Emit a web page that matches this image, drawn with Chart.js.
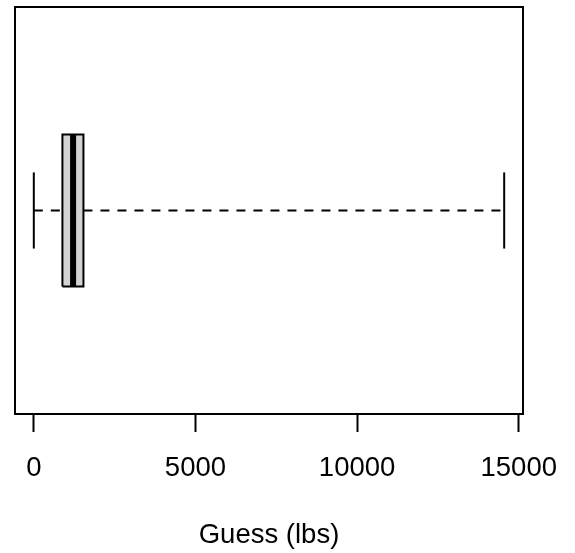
<!DOCTYPE html>
<html>
<head>
<meta charset="utf-8">
<script src="https://cdn.jsdelivr.net/npm/chart.js@4/dist/chart.umd.min.js"></script>
<style>
    html, body { margin: 0; padding: 0; background: #ffffff; }
    #wrap { width: 575px; height: 553px; }
</style>
</head>
<body>
<div id="wrap"><canvas id="chart" width="575" height="553"></canvas></div>
<script>
// Five-number summary of the guesses
var axisTitle = 'Guess (lbs)';
var lowerWhisker = [0];
var lowerQuartile = [885];
var medians = [1215];
var upperQuartile = [1535];
var upperWhisker = [14550];
var xTicks = [0, 5000, 10000, 15000];

(function () {
    'use strict';

    var BOX_HALF = 0.202;   // half height of the box, in y units
    var CAP_HALF = 0.101;   // half height of whisker caps
    var FONT = { family: '"Liberation Sans", Arial, Helvetica, sans-serif', size: 27.5 };

    var lo = lowerWhisker[0], q1 = lowerQuartile[0], med = medians[0],
        q3 = upperQuartile[0], hi = upperWhisker[0];
    var span = hi - lo;

    function line(points, extra) {
        var ds = {
            data: points,
            showLine: true,
            pointRadius: 0,
            borderColor: '#000000',
            borderWidth: 2,
            fill: false
        };
        for (var k in extra) {
            ds[k] = extra[k];
        }
        return ds;
    }

    var datasets = [
        line([{ x: med, y: 1 - BOX_HALF }, { x: med, y: 1 + BOX_HALF }], { borderWidth: 6, order: 0 }),
        line([
            { x: q1, y: 1 - BOX_HALF }, { x: q3, y: 1 - BOX_HALF },
            { x: q3, y: 1 + BOX_HALF }, { x: q1, y: 1 + BOX_HALF },
            { x: q1, y: 1 - BOX_HALF }
        ], { fill: 'shape', backgroundColor: '#d3d3d3', order: 1 }),
        line([{ x: lo, y: 1 }, { x: q1, y: 1 }], { borderDash: [9, 8], order: 2 }),
        line([{ x: q3, y: 1 }, { x: hi, y: 1 }], { borderDash: [9, 8], order: 2 }),
        line([{ x: lo, y: 1 - CAP_HALF }, { x: lo, y: 1 + CAP_HALF }], { order: 2 }),
        line([{ x: hi, y: 1 - CAP_HALF }, { x: hi, y: 1 + CAP_HALF }], { order: 2 })
    ];

    var framePlugin = {
        id: 'frame',
        afterDraw: function (chart) {
            var a = chart.chartArea;
            var ctx = chart.ctx;
            ctx.save();
            ctx.strokeStyle = '#000000';
            ctx.lineWidth = 2;
            ctx.strokeRect(a.left, a.top, a.right - a.left, a.bottom - a.top);
            ctx.restore();
        }
    };

    new Chart(document.getElementById('chart'), {
        type: 'scatter',
        data: { datasets: datasets },
        plugins: [framePlugin],
        options: {
            responsive: false,
            animation: false,
            layout: { padding: { left: 15, right: 52, top: 7, bottom: 0 } },
            plugins: {
                legend: { display: false },
                tooltip: { enabled: false }
            },
            scales: {
                x: {
                    type: 'linear',
                    min: lo - 0.04 * span,
                    max: hi + 0.04 * span,
                    afterBuildTicks: function (scale) {
                        scale.ticks = xTicks.map(function (v) { return { value: v }; });
                    },
                    afterFit: function (scale) {
                        // labels may overhang the plot frame, like in R
                        scale.paddingLeft = 0;
                        scale.paddingRight = 0;
                    },
                    ticks: {
                        color: '#000000',
                        font: FONT,
                        padding: 20,
                        maxRotation: 0,
                        autoSkip: false,
                        callback: function (v) { return String(v); }
                    },
                    grid: {
                        drawOnChartArea: false,
                        drawTicks: true,
                        tickLength: 18,
                        tickColor: '#000000',
                        tickWidth: 2
                    },
                    border: { display: false },
                    title: {
                        display: true,
                        text: axisTitle,
                        color: '#000000',
                        font: FONT,
                        padding: { top: 14, bottom: 1 }
                    }
                },
                y: {
                    type: 'linear',
                    display: false,
                    min: 0.46,
                    max: 1.54
                }
            }
        }
    });
})();
</script>
</body>
</html>
